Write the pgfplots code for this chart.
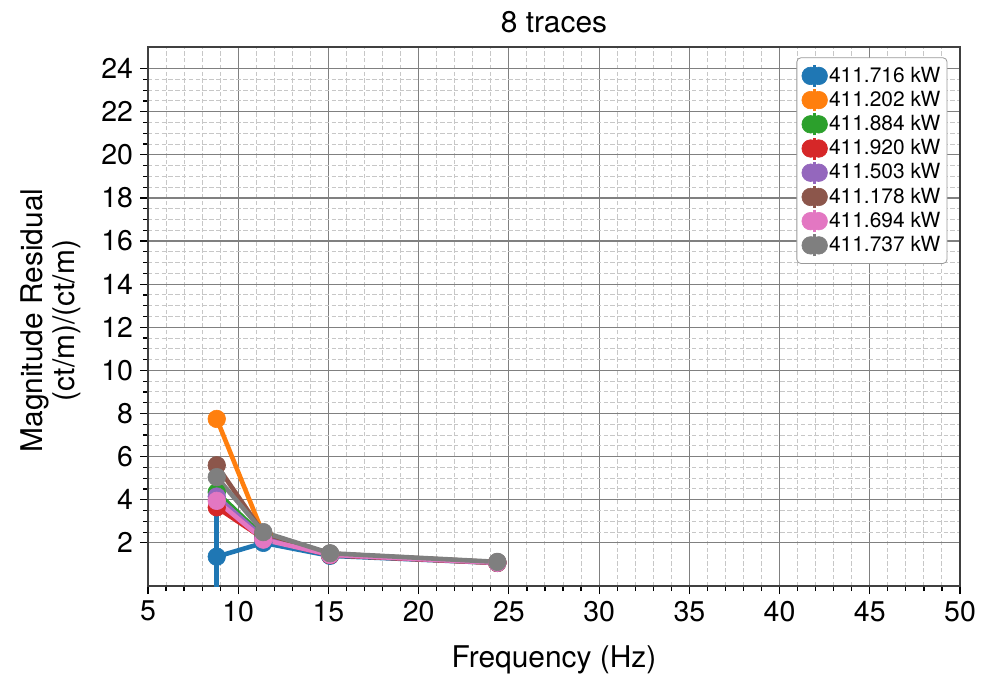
\documentclass[border=0pt]{standalone}
\usepackage{fontspec}
\setmainfont{TeX Gyre Heros}
\usepackage{pgfplots}
\pgfplotsset{compat=1.18}
\definecolor{c0}{HTML}{1F77B4}
\definecolor{c1}{HTML}{FF7F0E}
\definecolor{c2}{HTML}{2CA02C}
\definecolor{c3}{HTML}{D62728}
\definecolor{c4}{HTML}{9467BD}
\definecolor{c5}{HTML}{8C564B}
\definecolor{c6}{HTML}{E377C2}
\definecolor{c7}{HTML}{7F7F7F}
\begin{document}
\begin{tikzpicture}
\begin{axis}[
 scale only axis, width=406bp, height=269.5bp,
 xmin=5, xmax=50, ymin=0, ymax=25,
 xtick={5,10,...,50}, ytick={2,4,...,24},
 minor x tick num=4, minor y tick num=3,
 grid=both,
 major grid style={solid, draw=black!50, line width=0.6bp},
 minor grid style={dash pattern=on 2.2bp off 1.2bp, draw=black!22, line width=0.5bp},
 tick align=outside, tick pos=left,
 major tick length=4bp, minor tick length=2.5bp,
 every tick/.style={black, line width=0.6bp},
 axis line style={black!75, line width=0.6bp},
 tick label style={font=\fontsize{14.3}{16}\selectfont},
 /pgf/number format/assume math mode=true,
 title={8 traces},
 every axis title/.style={font=\fontsize{15}{17}\selectfont, at={(rel axis cs:0.5,1)}, anchor=center, yshift=12.5bp},
 xlabel={Frequency (Hz)},
 every axis x label/.style={font=\fontsize{15}{17}\selectfont, at={(rel axis cs:0.5,0)}, anchor=center, yshift=-37bp},
 ylabel={Magnitude Residual\\(ct/m)/(ct/m)},
 every axis y label/.style={font=\fontsize{15}{16}\selectfont, align=center, at={(rel axis cs:0,0.5)}, anchor=center, rotate=90, yshift=48.5bp, xshift=-2bp},
 legend style={at={(0.984,0.98)}, anchor=north east, font=\fontsize{10.5}{12}\selectfont,
   draw=black!40, rounded corners=2bp, fill=white, outer sep=0pt,
   row sep=-1bp, inner sep=2.5bp, cells={anchor=west}, nodes={inner xsep=0.8bp}},
 legend image code/.code={
   \draw[line width=1.2bp] (2bp,-5.5bp)--(2bp,5.5bp);
   \draw[mark repeat=1,mark phase=1] plot coordinates {(0bp,0bp) (4bp,0bp)};
 },
 every axis plot/.append style={line width=2.3bp, mark=*, mark size=4.4bp},
]
\coordinate (bl) at (rel axis cs:0,0);
\coordinate (tr) at (rel axis cs:1,1);
\addplot[c0, mark options={solid, fill=c0, line width=0.3bp}, error bars/.cd, y dir=both, y explicit, error bar style={line width=2.3bp}, error mark=none]
 coordinates {(8.81,1.36) +- (0,2.2) (11.39,2.0) +- (0,0) (15.09,1.40) +- (0,0) (24.36,1.07) +- (0,0)};
\addlegendentry{411.716 kW}
\addplot[c1, mark options={solid, fill=c1, line width=0.3bp}] coordinates {(8.81,7.75) (11.39,2.4) (15.09,1.45) (24.36,1.08)};
\addlegendentry{411.202 kW}
\addplot[c2, mark options={solid, fill=c2, line width=0.3bp}] coordinates {(8.81,4.35) (11.39,2.3) (15.09,1.45) (24.36,1.08)};
\addlegendentry{411.884 kW}
\addplot[c3, mark options={solid, fill=c3, line width=0.3bp}] coordinates {(8.81,3.65) (11.39,2.2) (15.09,1.43) (24.36,1.07)};
\addlegendentry{411.920 kW}
\addplot[c4, mark options={solid, fill=c4, line width=0.3bp}] coordinates {(8.81,4.15) (11.39,2.25) (15.09,1.45) (24.36,1.08)};
\addlegendentry{411.503 kW}
\addplot[c5, mark options={solid, fill=c5, line width=0.3bp}] coordinates {(8.81,5.6) (11.39,2.45) (15.09,1.5) (24.36,1.1)};
\addlegendentry{411.178 kW}
\addplot[c6, mark options={solid, fill=c6, line width=0.3bp}] coordinates {(8.81,3.95) (11.39,2.15) (15.09,1.45) (24.36,1.08)};
\addlegendentry{411.694 kW}
\addplot[c7, mark options={solid, fill=c7, line width=0.3bp}] coordinates {(8.81,5.05) (11.39,2.5) (15.09,1.52) (24.36,1.12)};
\addlegendentry{411.737 kW}
\end{axis}
\pgfresetboundingbox
\path ([shift={(-74bp,-45bp)}]bl) rectangle ([shift={(11.5bp,23.5bp)}]tr);
\end{tikzpicture}
\end{document}
